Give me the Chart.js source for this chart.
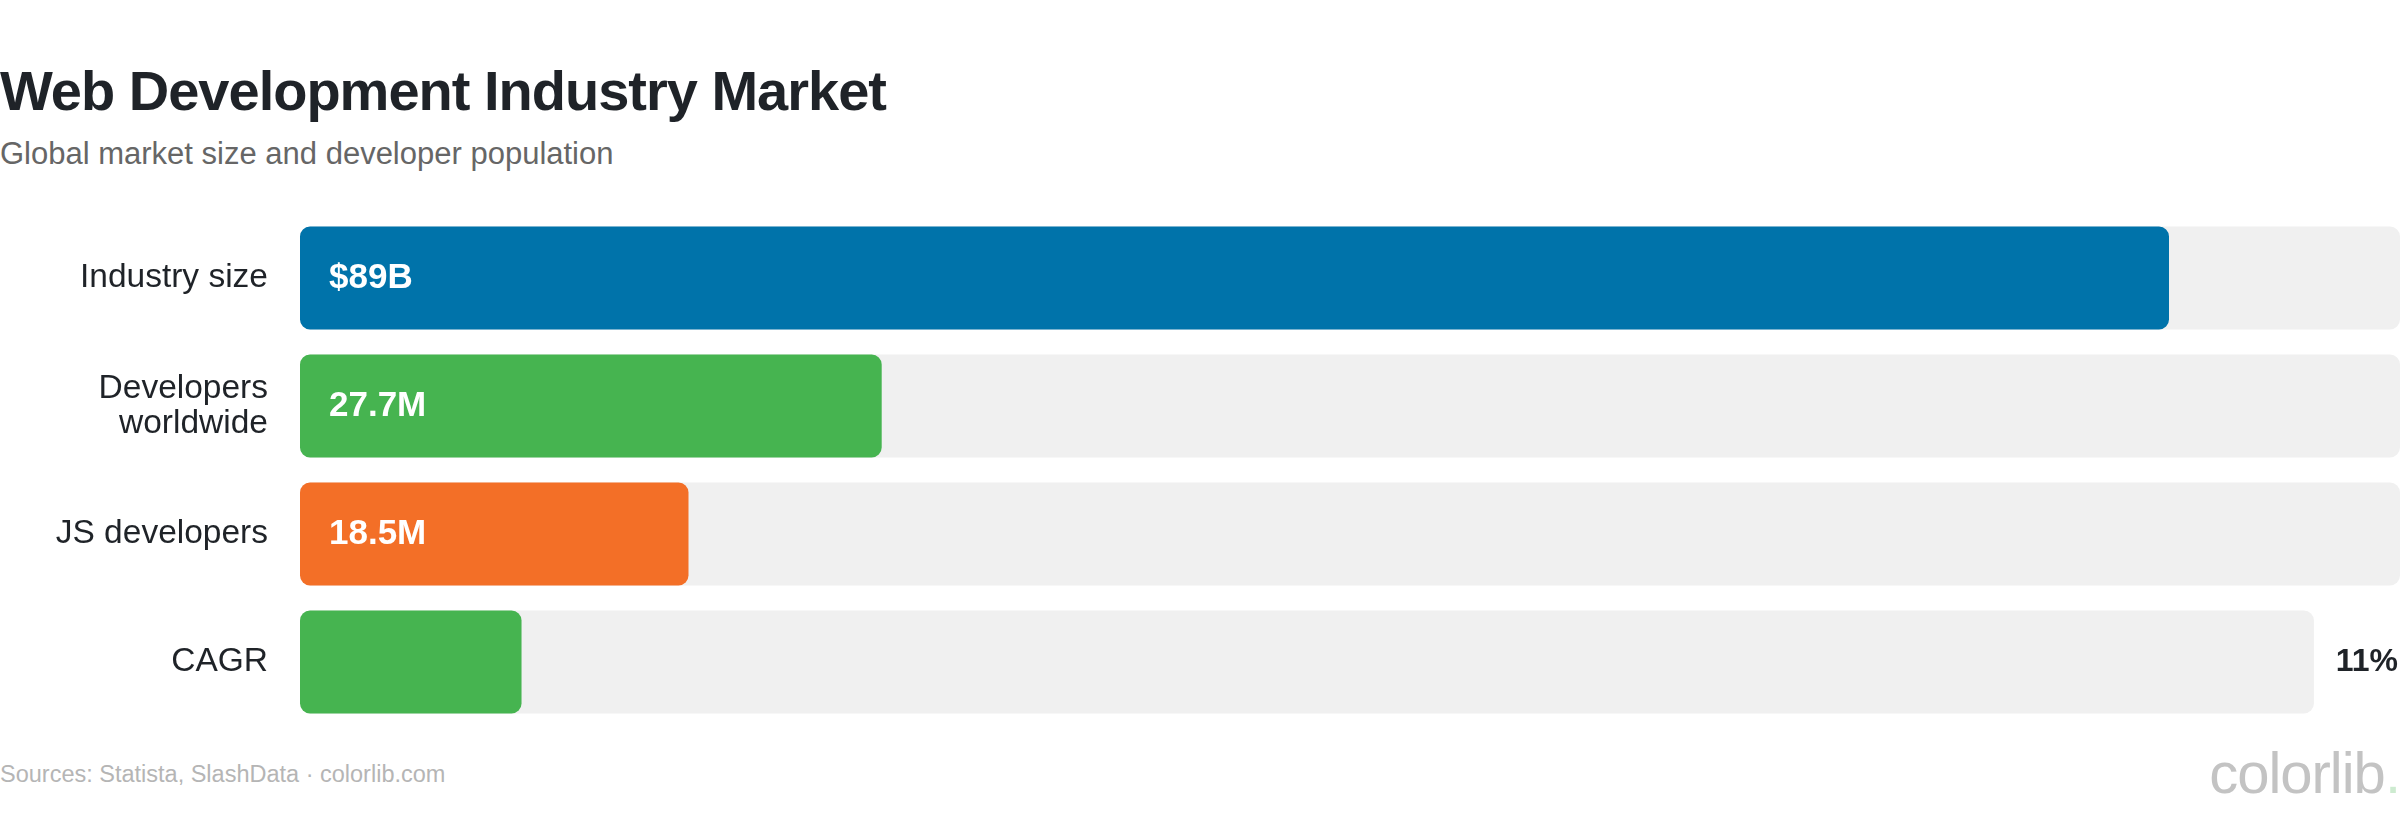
<!DOCTYPE html>
<html>
<head>
<meta charset="utf-8">
<script src="https://cdn.jsdelivr.net/npm/chart.js@4/dist/chart.umd.min.js"></script>
<style>
  body { margin: 0; width: 2400px; height: 830px; background: #fff; position: relative; overflow: hidden;
         font-family: "Liberation Sans", Arial, sans-serif; }
  #title { position: absolute; left: 0; top: 63px; font-size: 56px; line-height: 56px; font-weight: bold;
           color: #1f2328; letter-spacing: -1px; white-space: nowrap; }
  #subtitle { position: absolute; left: 0; top: 138px; font-size: 31px; line-height: 31px; color: #666; white-space: nowrap; }
  #chartBox { position: absolute; left: 0; top: 200px; width: 2400px; height: 540px; }
  #source { position: absolute; left: 0; top: 762px; font-size: 23.5px; line-height: 24px; color: #b5b5b5; white-space: nowrap; }
  #logo { position: absolute; right: 0; top: 744px; font-size: 58px; line-height: 58px; color: #c3c3c3;
          letter-spacing: -1px; white-space: nowrap; }
  #logo span { color: #cdebd0; }
</style>
</head>
<body>
<div id="title">Web Development Industry Market</div>
<div id="subtitle">Global market size and developer population</div>
<div id="chartBox"><canvas id="chart" width="2400" height="540"></canvas></div>
<div id="source">Sources: Statista, SlashData · colorlib.com</div>
<div id="logo">colorlib<span>.</span></div>
<script>
// data (percent of each row's track)
const categories = ['Industry size', ['Developers', 'worldwide'], 'JS developers', 'CAGR'];
const values = [89, 27.7, 18.5, 11];
const valueLabels = ['$89B', '27.7M', '18.5M', '11%'];
const trackValues = [100, 100, 100, 95.9];
const labelOutside = [false, false, false, true];
const barColors = ['#0073aa', '#46b450', '#f36f27', '#46b450'];

// each bar is a share of its own track
const barValues = values.map((v, i) => v * trackValues[i] / 100);

const valueLabelPlugin = {
  id: 'valueLabels',
  afterDatasetsDraw(chart) {
    const ctx = chart.ctx;
    const meta = chart.getDatasetMeta(0);
    ctx.save();
    ctx.textBaseline = 'middle';
    meta.data.forEach((bar, i) => {
      if (labelOutside[i]) {
        ctx.font = 'bold 32px "Liberation Sans", Arial, sans-serif';
        ctx.fillStyle = '#1f2328';
        ctx.textAlign = 'right';
        ctx.fillText(valueLabels[i], chart.chartArea.right - 2, bar.y);
      } else {
        ctx.font = 'bold 35px "Liberation Sans", Arial, sans-serif';
        ctx.fillStyle = '#ffffff';
        ctx.textAlign = 'left';
        ctx.fillText(valueLabels[i], bar.base + 29, bar.y);
      }
    });
    ctx.restore();
  }
};

new Chart(document.getElementById('chart'), {
  type: 'bar',
  data: {
    labels: categories,
    datasets: [
      {
        data: barValues,
        backgroundColor: barColors,
        borderRadius: 10,
        borderSkipped: false,
        grouped: false,
        order: 0
      },
      {
        data: trackValues,
        backgroundColor: '#f0f0f0',
        borderRadius: 10,
        borderSkipped: false,
        grouped: false,
        order: 1
      }
    ]
  },
  options: {
    indexAxis: 'y',
    responsive: false,
    animation: false,
    layout: { padding: { top: 14, bottom: 14, left: 0, right: 0 } },
    datasets: { bar: { categoryPercentage: 1, barPercentage: 0.805 } },
    plugins: { legend: { display: false }, tooltip: { enabled: false } },
    scales: {
      x: { display: false, min: 0, max: 100 },
      y: {
        grid: { display: false },
        border: { display: false },
        ticks: {
          padding: 24,
          color: '#1f2328',
          font: { size: 33.5, family: '"Liberation Sans", Arial, sans-serif', lineHeight: 1.05 }
        },
        afterFit(scale) {
          scale.width = 300;
          scale.paddingTop = 0;
          scale.paddingBottom = 0;
        }
      }
    }
  },
  plugins: [valueLabelPlugin]
});
</script>
</body>
</html>
